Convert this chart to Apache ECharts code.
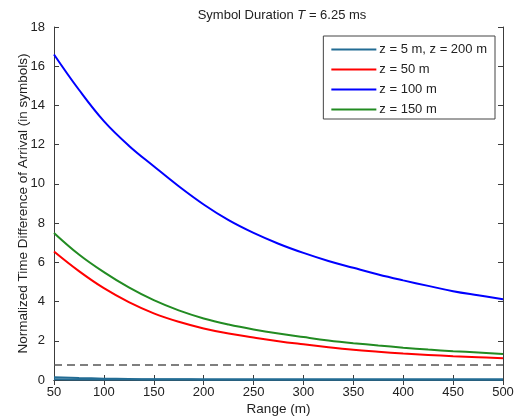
<!DOCTYPE html>
<html>
<head>
<meta charset="utf-8">
<script src="https://cdn.jsdelivr.net/npm/echarts@6/dist/echarts.min.js"></script>
<style>html,body{margin:0;padding:0;background:#fff}#c{width:515px;height:416px}</style>
</head>
<body>
<div id="c"></div>
<script>
const ranges = [50, 75, 100, 125, 150, 175, 200, 225, 250, 275, 300, 325, 350, 375, 400, 425, 450, 475, 500];
const z5 = [0.14, 0.1, 0.07, 0.05, 0.04, 0.04, 0.03, 0.03, 0.03, 0.03, 0.03, 0.03, 0.03, 0.03, 0.03, 0.03, 0.03, 0.03, 0.03];
const z200 = [0.04, 0.03, 0.03, 0.03, 0.03, 0.03, 0.03, 0.03, 0.03, 0.03, 0.03, 0.03, 0.03, 0.03, 0.03, 0.03, 0.03, 0.03, 0.03];
const z50 = [6.55, 5.55, 4.68, 3.97, 3.4, 2.97, 2.63, 2.37, 2.17, 1.98, 1.82, 1.67, 1.54, 1.44, 1.35, 1.28, 1.21, 1.16, 1.11];
const z100 = [16.6, 14.8, 13.2, 11.95, 10.9, 9.88, 8.95, 8.15, 7.5, 6.95, 6.48, 6.07, 5.72, 5.38, 5.08, 4.8, 4.53, 4.32, 4.12];
const z150 = [7.5, 6.4, 5.5, 4.72, 4.07, 3.55, 3.14, 2.83, 2.58, 2.37, 2.19, 2.02, 1.88, 1.76, 1.65, 1.55, 1.47, 1.4, 1.33];
const thresholdY = 0.77;
const xTicks = [50, 500, 50];
const yTicks = [0, 18, 2];
const legendNames = ['z = 5 m, z = 200 m', 'z = 50 m', 'z = 100 m', 'z = 150 m'];

const pair = arr => ranges.map((r, i) => [r, arr[i]]);
const font = 'Liberation Sans, Arial, sans-serif';
const axisCol = '#3c3c3c';
const txt = '#222';

const chart = echarts.init(document.getElementById('c'));
const lineSeries = (name, data, color) => ({
  name, type: 'line', data: pair(data), smooth: 0.4, symbol: 'none',
  lineStyle: {color, width: 2}, itemStyle: {color}, z: 3
});
chart.setOption({
  animation: false,
  backgroundColor: '#fff',
  title: {
    text: 'Symbol Duration {i|T} = 6.25 ms',
    left: 277, textAlign: 'center', top: 4,
    textStyle: {fontFamily: font, fontSize: 13, fontWeight: 'normal', color: txt,
      rich: {i: {fontFamily: font, fontSize: 13, fontStyle: 'italic', color: txt}}}
  },
  grid: {left: 54, right: 12, top: 27, bottom: 36, containLabel: false, outerBoundsMode: 'none'},
  legend: {
    data: legendNames, orient: 'vertical', right: 20, top: 36,
    backgroundColor: '#fff', borderColor: '#444', borderWidth: 1, borderRadius: 0,
    padding: [7, 8, 3, 8], itemGap: 7, itemWidth: 45, itemHeight: 14,
    textStyle: {fontFamily: font, fontSize: 13, color: txt, padding: [0, 0, 0, -2]},
    icon: 'path://M0,6 L45,6 L45,8 L0,8 Z'
  },
  xAxis: [{
    type: 'value', min: xTicks[0], max: xTicks[1], interval: xTicks[2],
    name: 'Range (m)', nameLocation: 'middle', nameGap: 22, nameMoveOverlap: false,
    nameTextStyle: {fontFamily: font, fontSize: 13.5, color: txt},
    axisLine: {lineStyle: {color: axisCol, width: 1}},
    axisTick: {inside: true, length: 5, lineStyle: {color: axisCol}},
    axisLabel: {fontFamily: font, fontSize: 13, color: txt, margin: 6},
    splitLine: {show: false}
  }, {
    type: 'value', position: 'top', min: xTicks[0], max: xTicks[1], interval: xTicks[2],
    axisLine: {lineStyle: {color: axisCol, width: 1}},
    axisTick: {inside: true, length: 5, lineStyle: {color: axisCol}},
    axisLabel: {show: false}, splitLine: {show: false}
  }],
  yAxis: [{
    type: 'value', min: yTicks[0], max: yTicks[1], interval: yTicks[2],
    name: 'Normalized Time Difference of Arrival (in symbols)', nameLocation: 'middle', nameGap: 24,
    nameMoveOverlap: false,
    nameTextStyle: {fontFamily: font, fontSize: 13.5, color: txt},
    axisLine: {show: true, lineStyle: {color: axisCol, width: 1}},
    axisTick: {show: true, inside: true, length: 5, lineStyle: {color: axisCol}},
    axisLabel: {fontFamily: font, fontSize: 13, color: txt, margin: 9},
    splitLine: {show: false}
  }, {
    type: 'value', position: 'right', min: yTicks[0], max: yTicks[1], interval: yTicks[2],
    axisLine: {show: true, lineStyle: {color: axisCol, width: 1}},
    axisTick: {show: true, inside: true, length: 5, lineStyle: {color: axisCol}},
    axisLabel: {show: false}, splitLine: {show: false}
  }],
  series: [
    lineSeries(legendNames[0], z5, '#236c94'),
    lineSeries(legendNames[0], z200, '#236c94'),
    lineSeries(legendNames[1], z50, '#ff0000'),
    lineSeries(legendNames[2], z100, '#0000ff'),
    lineSeries(legendNames[3], z150, '#228b22'),
    {
      name: 'threshold', type: 'line', symbol: 'none',
      data: [[xTicks[0], thresholdY], [xTicks[1], thresholdY]],
      lineStyle: {color: '#555', width: 1.5, type: [8, 5]}, z: 2
    }
  ]
});
</script>
</body>
</html>
